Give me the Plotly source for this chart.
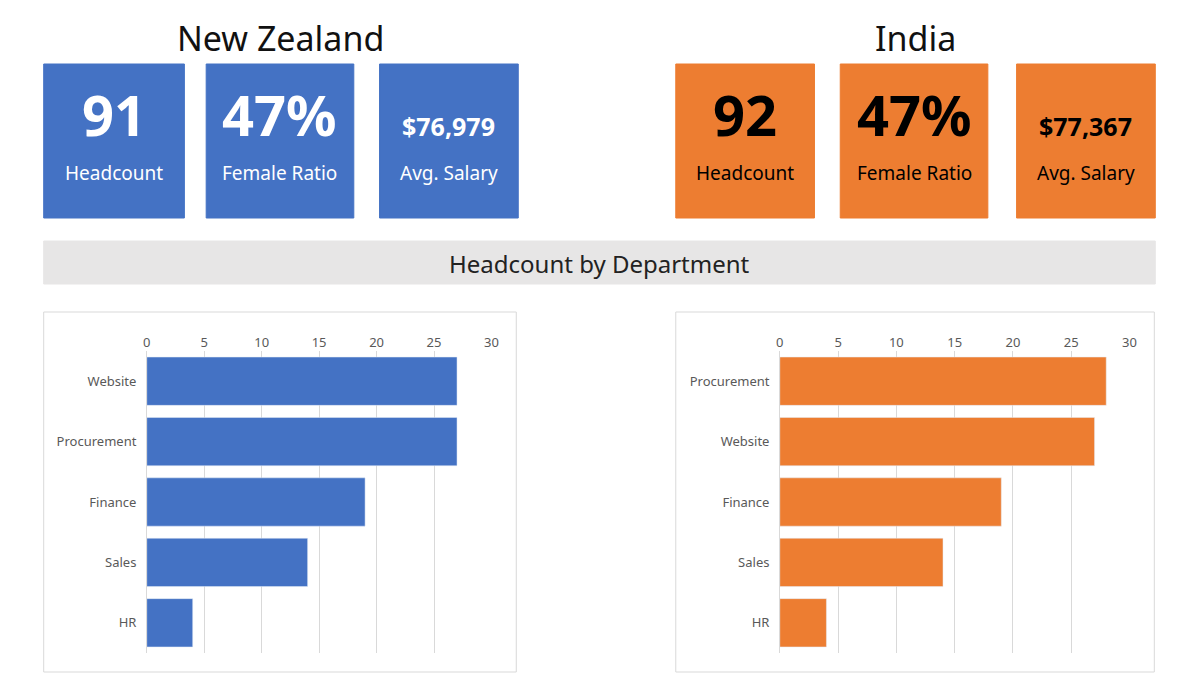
import plotly.graph_objects as go

W, H = 1185, 697
nz_depts = ["Website", "Procurement", "Finance", "Sales", "HR"]
nz_counts = [27, 27, 19, 14, 4]
in_depts = ["Procurement", "Website", "Finance", "Sales", "HR"]
in_counts = [28, 27, 19, 14, 4]
nz_kpi = ["91", "47%", "$76,979"]
in_kpi = ["92", "47%", "$77,367"]
kpi_labels = ["Headcount", "Female Ratio", "Avg. Salary"]
ticks = [0, 5, 10, 15, 20, 25, 30]

BLUE, ORANGE = "#4472c4", "#ed7d31"
FONT = "Noto Sans"

def px(x): return x / W
def py(y): return 1 - y / H

fig = go.Figure()
fig.add_trace(go.Bar(y=nz_depts, x=nz_counts, orientation="h", marker_color=BLUE, xaxis="x", yaxis="y"))
fig.add_trace(go.Bar(y=in_depts, x=in_counts, orientation="h", marker_color=ORANGE, xaxis="x2", yaxis="y2"))

shapes, ann = [], []
def rect(x0, y0, x1, y1, fill, line=None):
    shapes.append(dict(type="rect", xref="paper", yref="paper", x0=px(x0), x1=px(x1), y0=py(y1), y1=py(y0),
                       fillcolor=fill, line=dict(color=line or fill, width=1), layer="below"))
def text(x, y, t, size, color="black", bold=False, family=FONT):
    ann.append(dict(xref="paper", yref="paper", x=px(x), y=py(y), text=f"<b>{t}</b>" if bold else t,
                    showarrow=False, xanchor="center", yanchor="middle", font=dict(size=size, color=color, family=family)))

# chart boxes
rect(32, 304, 509, 664, "white", "#d9d9d9")
rect(670, 304, 1153, 664, "white", "#d9d9d9")
rect(32, 233, 1154, 276, "#e7e6e6")
text(593, 255, "Headcount by Department", 24, "#222")
text(271, 30, "New Zealand", 34, "#111")
text(912, 30, "India", 34, "#111")

nz_boxes = [(32, 174), (196, 345), (371, 511)]
in_boxes = [(670, 810), (836, 985), (1014, 1154)]
for boxes, vals, col, tc in [(nz_boxes, nz_kpi, BLUE, "white"), (in_boxes, in_kpi, ORANGE, "black")]:
    for i, ((a, b), v) in enumerate(zip(boxes, vals)):
        rect(a, 56, b, 210, col)
        c = (a + b) / 2
        if i < 2:
            text(c, 106, v, 56, tc, True)
        else:
            text(c, 118, v, 25, tc, True)
        text(c, 165, kpi_labels[i], 19, tc)

ax = dict(side="top", range=[0, 30], tickvals=ticks, showgrid=True, gridcolor="#d9d9d9",
          zeroline=False, tickfont=dict(size=13, color="#595959", family=FONT), fixedrange=True)
ay = dict(autorange="reversed", tickfont=dict(size=13, color="#595959", family=FONT), ticksuffix="  ",
          showline=True, linecolor="#d9d9d9", domain=[py(645), py(343)])
fig.update_layout(
    width=W, height=H, margin=dict(l=0, r=0, t=0, b=0), paper_bgcolor="white", plot_bgcolor="rgba(0,0,0,0)",
    showlegend=False, bargap=0.2, shapes=shapes, annotations=ann,
    xaxis=dict(ax, domain=[px(136), px(484)], anchor="y"),
    xaxis2=dict(ax, domain=[px(775), px(1128)], anchor="y2"),
    yaxis=dict(ay, anchor="x"),
    yaxis2=dict(ay, anchor="x2"),
)
fig.write_html("out.html")
